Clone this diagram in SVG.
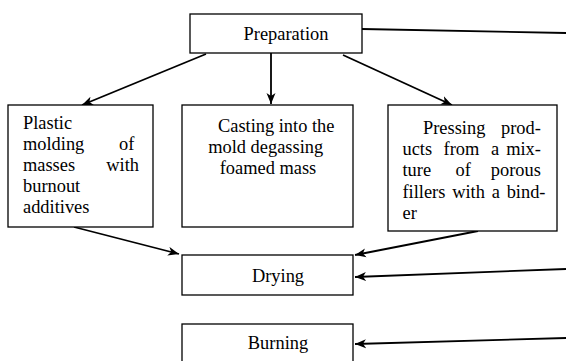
<svg xmlns="http://www.w3.org/2000/svg" width="566" height="361" viewBox="0 0 566 361">
  <style>
    .box { fill: #fff; stroke: #000; stroke-width: 1.3; }
    .lbl { font-family: "Liberation Serif", "Times New Roman", serif; font-size: 18.4px; fill: #000; }
    .mid { text-anchor: middle; }
    .end { text-anchor: end; }
    .edge { fill: none; stroke: #000; stroke-width: 1.8; }
  </style>
  <defs>
    <marker id="arrow" markerUnits="userSpaceOnUse" markerWidth="12" markerHeight="10" refX="11" refY="5" orient="auto">
      <path d="M0,0.5 L11,5 L0,9.5 L3,5 Z" fill="#000"/>
    </marker>
  </defs>
  <rect width="566" height="361" fill="#fff"/>

  <g id="connectors">
    <line class="edge" x1="362" y1="29" x2="566" y2="33" stroke-width="1.1"/>
    <line class="edge" x1="206" y1="54" x2="82" y2="105" marker-end="url(#arrow)"/>
    <line class="edge" x1="271" y1="53" x2="271" y2="104" marker-end="url(#arrow)"/>
    <line class="edge" x1="343" y1="55" x2="452" y2="105" marker-end="url(#arrow)"/>
    <line class="edge" x1="74" y1="227" x2="179" y2="254" marker-end="url(#arrow)"/>
    <line class="edge" x1="478" y1="231" x2="355" y2="255" marker-end="url(#arrow)"/>
    <line class="edge" x1="566" y1="269" x2="355" y2="277" marker-end="url(#arrow)"/>
    <line class="edge" x1="566" y1="338" x2="355" y2="344" marker-end="url(#arrow)"/>
  </g>

  <g id="preparation">
    <rect class="box" x="190" y="14" width="172" height="39"/>
    <text class="lbl mid" x="286" y="40">Preparation</text>
  </g>

  <g id="plastic-molding">
    <rect class="box" x="8" y="105" width="145" height="122"/>
    <text class="lbl">
      <tspan x="23" y="128.5">Plastic</tspan>
      <tspan x="23" y="149.7">molding</tspan>
      <tspan x="23" y="170.9">masses</tspan>
      <tspan x="23" y="192.1">burnout</tspan>
      <tspan x="23" y="213.3">additives</tspan>
    </text>
    <text class="lbl end">
      <tspan x="139" y="149.7">of</tspan>
      <tspan x="139" y="170.9">with</tspan>
    </text>
  </g>

  <g id="casting">
    <rect class="box" x="182" y="105" width="171" height="122"/>
    <text class="lbl mid">
      <tspan x="278.5" y="131.6">Casting into the</tspan>
      <tspan x="268" y="152.8">mold degassing</tspan>
      <tspan x="268" y="174">foamed mass</tspan>
    </text>
  </g>

  <g id="pressing">
    <rect class="box" x="388" y="105" width="169" height="126"/>
    <text class="lbl">
      <tspan x="423" y="134">Pressing</tspan>
      <tspan x="402.5" y="155.2">ucts</tspan>
      <tspan x="443.6" y="155.2">from</tspan>
      <tspan x="490.9" y="155.2">a</tspan>
      <tspan x="402.5" y="176.4">ture</tspan>
      <tspan x="455.6" y="176.4">of</tspan>
      <tspan x="402.5" y="197.6">fillers</tspan>
      <tspan x="452.2" y="197.6">with</tspan>
      <tspan x="491.7" y="197.6">a</tspan>
      <tspan x="402.5" y="218.8">er</tspan>
    </text>
    <text class="lbl end">
      <tspan x="545.5" y="134">prod-</tspan>
      <tspan x="545.5" y="155.2">mix-</tspan>
      <tspan x="545.5" y="176.4">porous</tspan>
      <tspan x="545.5" y="197.6">bind-</tspan>
    </text>
  </g>

  <g id="drying">
    <rect class="box" x="182" y="255" width="171" height="40"/>
    <text class="lbl mid" x="278" y="281.7">Drying</text>
  </g>

  <g id="burning">
    <rect class="box" x="182" y="324" width="171" height="46"/>
    <text class="lbl mid" x="278" y="349">Burning</text>
  </g>
</svg>
